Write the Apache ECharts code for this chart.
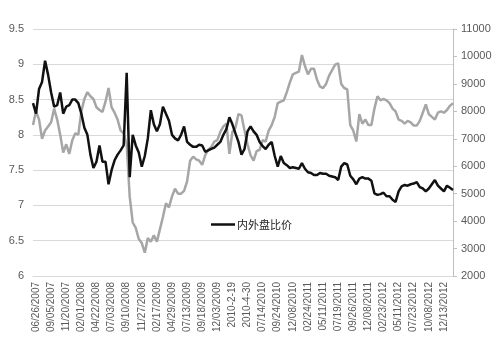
<!DOCTYPE html>
<html>
<head>
<meta charset="utf-8">
<script src="https://cdn.jsdelivr.net/npm/echarts@6/dist/echarts.min.js"></script>
<style>html,body{margin:0;padding:0;background:#fff}#c{width:500px;height:357px}</style>
</head>
<body>
<div id="c"></div>
<script>
const tickLabels = ['06/26/2007','09/05/2007','11/20/2007','02/01/2008','04/22/2008','07/03/2008','09/10/2008','11/27/2008','02/17/2009','04/29/2009','07/13/2009','09/18/2009','12/03/2009','2010-2-19','2010-4-30','07/14/2010','09/24/2010','12/08/2010','02/24/2011','05/11/2011','07/19/2011','09/26/2011','12/08/2011','02/23/2012','05/11/2012','07/23/2012','10/08/2012','12/13/2012'];
const ratioName = '内外盘比价';
const ratio = [8.45,8.3,8.65,8.75,9.05,8.85,8.6,8.4,8.42,8.6,8.3,8.4,8.42,8.5,8.5,8.45,8.3,8.1,8.0,7.72,7.53,7.62,7.85,7.62,7.62,7.3,7.5,7.64,7.72,7.78,7.85,8.88,7.4,8.0,7.85,7.75,7.55,7.7,7.95,8.35,8.15,8.05,8.15,8.4,8.3,8.2,8.0,7.95,7.92,8.0,8.12,7.9,7.86,7.83,7.83,7.86,7.85,7.76,7.78,7.8,7.82,7.86,7.9,8.0,8.08,8.25,8.15,8.02,7.9,7.72,7.8,8.05,8.12,8.05,8.0,7.9,7.84,7.8,7.86,7.9,7.7,7.55,7.7,7.6,7.57,7.53,7.54,7.53,7.52,7.6,7.52,7.47,7.46,7.43,7.43,7.46,7.45,7.45,7.42,7.41,7.4,7.36,7.55,7.6,7.58,7.42,7.37,7.3,7.38,7.4,7.38,7.38,7.35,7.17,7.15,7.16,7.18,7.13,7.13,7.08,7.05,7.2,7.27,7.29,7.28,7.3,7.31,7.33,7.26,7.24,7.2,7.24,7.3,7.36,7.28,7.24,7.2,7.28,7.25,7.22];
const price = [7500,8000,7700,7000,7300,7450,7600,8100,7700,7150,6500,6800,6450,6950,7200,7150,8000,8450,8700,8550,8450,8150,8050,7980,8350,8850,8150,7950,7700,7300,7200,6800,4900,3950,3750,3350,3200,2850,3380,3250,3480,3250,3700,4150,4650,4500,4900,5180,5000,5000,5100,5450,6200,6350,6250,6200,6050,6400,6600,6700,6900,6950,7250,7450,7550,6450,7250,7400,7900,7850,7300,6800,6400,6200,6550,6600,6950,6900,7300,7500,7800,8300,8350,8400,8700,9050,9350,9400,9450,10050,9650,9350,9550,9550,9150,8900,8850,9000,9300,9500,9700,9750,9000,8850,8800,7500,7300,6900,7900,7550,7700,7500,7500,8100,8550,8400,8450,8400,8300,8100,8000,7700,7650,7550,7650,7600,7480,7480,7650,7950,8250,7900,7800,7700,7950,8000,7950,8050,8200,8300];

const cats = ratio.map((_, i) => ((i - 1) % 5 === 0 && tickLabels[(i - 1) / 5]) ? tickLabels[(i - 1) / 5] : '');

const chart = echarts.init(document.getElementById('c'), null, {renderer: 'canvas'});
chart.setOption({
  animation: false,
  backgroundColor: '#fff',
  grid: {left: 33, right: 47, top: 29, bottom: 81},
  legend: {
    data: [ratioName], left: 206, top: 214, icon: 'rect', itemWidth: 24, itemHeight: 2.5, itemGap: 4,
    textStyle: {fontSize: 11, color: '#222', fontFamily: 'Noto Sans CJK SC', padding: [0, 0, 0, -3]}
  },
  xAxis: {
    type: 'category', data: cats, boundaryGap: false,
    axisLine: {show: true, lineStyle: {color: '#d9d9d9'}},
    axisTick: {show: false},
    axisLabel: {
      interval: (idx) => (idx - 1) % 5 === 0,
      rotate: 90, fontSize: 10, color: '#595959', margin: 6,
      fontFamily: 'Liberation Sans'
    },
    splitLine: {show: false}
  },
  yAxis: [
    {
      type: 'value', min: 6, max: 9.5, interval: 0.5,
      axisLine: {show: false}, axisTick: {show: false},
      axisLabel: {fontSize: 11, color: '#595959', margin: 9, fontFamily: 'Liberation Sans'},
      splitLine: {lineStyle: {color: '#d9d9d9', width: 1}}
    },
    {
      type: 'value', min: 2000, max: 11000, interval: 1000, position: 'right',
      axisLine: {show: true, lineStyle: {color: '#bfbfbf'}},
      axisTick: {show: true, length: 4, lineStyle: {color: '#bfbfbf'}},
      axisLabel: {fontSize: 11, color: '#595959', margin: 8, fontFamily: 'Liberation Sans', formatter: (v) => String(v)},
      splitLine: {show: false}
    }
  ],
  series: [
    {
      name: ratioName, type: 'line', yAxisIndex: 0, data: ratio, symbol: 'none',
      lineStyle: {color: '#111', width: 2.5}, itemStyle: {color: '#111'}, z: 3
    },
    {
      name: 'price', type: 'line', yAxisIndex: 1, data: price, symbol: 'none',
      lineStyle: {color: '#a6a6a6', width: 2.5}, itemStyle: {color: '#a6a6a6'}, z: 2
    }
  ]
});
</script>
</body>
</html>
